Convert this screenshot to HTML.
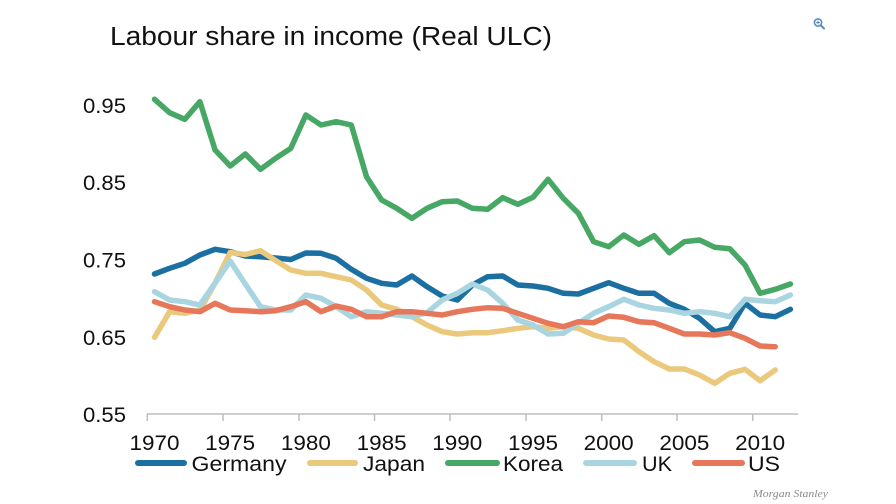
<!DOCTYPE html>
<html>
<head>
<meta charset="utf-8">
<style>
  html,body{margin:0;padding:0;background:#fff;}
  svg{display:block;}
  text{font-family:"Liberation Sans",Arial,sans-serif;fill:#111;}
</style>
</head>
<body>
<svg width="896" height="504" viewBox="0 0 896 504" xmlns="http://www.w3.org/2000/svg">
  <rect width="896" height="504" fill="#fff"/>
  <!-- Title -->
  <text x="110" y="45" font-size="25.5" textLength="442" lengthAdjust="spacingAndGlyphs">Labour share in income (Real ULC)</text>

  <!-- Zoom icon -->
  <g stroke="#5a8cbf" fill="none">
    <circle cx="818" cy="22.5" r="3.6" stroke-width="1.6"/>
    <line x1="820.8" y1="25.3" x2="824" y2="28.5" stroke-width="2" stroke-linecap="round"/>
    <line x1="816.2" y1="22.5" x2="819.8" y2="22.5" stroke-width="1.1"/>
    <line x1="818" y1="20.7" x2="818" y2="24.3" stroke-width="1.1"/>
  </g>

  <!-- Y labels -->
  <g font-size="21" text-anchor="end">
    <text x="126" y="113" textLength="43" lengthAdjust="spacingAndGlyphs">0.95</text>
    <text x="126" y="190" textLength="43" lengthAdjust="spacingAndGlyphs">0.85</text>
    <text x="126" y="267.5" textLength="43" lengthAdjust="spacingAndGlyphs">0.75</text>
    <text x="126" y="345" textLength="43" lengthAdjust="spacingAndGlyphs">0.65</text>
    <text x="126" y="422" textLength="43" lengthAdjust="spacingAndGlyphs">0.55</text>
  </g>

  <!-- X axis -->
  <g stroke="#bdbdbd" stroke-width="1.5">
    <line x1="147" y1="414" x2="798" y2="414"/>
    <line x1="147.3" y1="414" x2="147.3" y2="421"/>
    <line x1="223" y1="414" x2="223" y2="421"/>
    <line x1="299" y1="414" x2="299" y2="421"/>
    <line x1="374.5" y1="414" x2="374.5" y2="421"/>
    <line x1="450" y1="414" x2="450" y2="421"/>
    <line x1="526" y1="414" x2="526" y2="421"/>
    <line x1="601.7" y1="414" x2="601.7" y2="421"/>
    <line x1="677" y1="414" x2="677" y2="421"/>
    <line x1="752.7" y1="414" x2="752.7" y2="421"/>
  </g>
  <g font-size="21" text-anchor="middle">
    <text x="154.5" y="450" textLength="50" lengthAdjust="spacingAndGlyphs">1970</text>
    <text x="230.2" y="450" textLength="50" lengthAdjust="spacingAndGlyphs">1975</text>
    <text x="305.9" y="450" textLength="50" lengthAdjust="spacingAndGlyphs">1980</text>
    <text x="381.6" y="450" textLength="50" lengthAdjust="spacingAndGlyphs">1985</text>
    <text x="457.3" y="450" textLength="50" lengthAdjust="spacingAndGlyphs">1990</text>
    <text x="533.0" y="450" textLength="50" lengthAdjust="spacingAndGlyphs">1995</text>
    <text x="608.7" y="450" textLength="50" lengthAdjust="spacingAndGlyphs">2000</text>
    <text x="684.4" y="450" textLength="50" lengthAdjust="spacingAndGlyphs">2005</text>
    <text x="760.1" y="450" textLength="50" lengthAdjust="spacingAndGlyphs">2010</text>
  </g>

  <!-- Series -->
  <g fill="none" stroke-width="5.5" stroke-linejoin="round" stroke-linecap="round">
    <!-- Germany -->
    <polyline stroke="#1b6fa1" points="154.5,274 169.6,268.3 184.8,263.3 199.9,255 215.1,249.3 230.2,251.7 245.3,256 260.5,256.7 275.6,258 290.8,259.5 305.9,253 321.0,253.3 336.2,258.3 351.3,269.3 366.5,278.3 381.6,283.3 396.7,285 411.9,276 427.0,286.7 442.2,296 457.3,300 472.4,285 487.6,276.7 502.7,276 517.9,285 533.0,286 548.1,288.3 563.3,293.3 578.4,294 593.6,288.3 608.7,282.7 623.8,288.3 639.0,293.3 654.1,293.3 669.3,303.3 684.4,309.3 699.5,318.3 714.7,331.7 729.8,328.3 745.0,303.3 760.1,315 775.2,316.7 790.4,309.3"/>
    <!-- Japan -->
    <polyline stroke="#ebc97c" points="154.5,337.3 169.6,311.7 184.8,313.3 199.9,310 215.1,283 230.2,252.5 245.3,254.5 260.5,250.7 275.6,260.5 290.8,270 305.9,273.3 321.0,273.3 336.2,276.7 351.3,280 366.5,290 381.6,305 396.7,309.3 411.9,316.7 427.0,325 442.2,331.7 457.3,334 472.4,332.7 487.6,332.7 502.7,330.7 517.9,328.3 533.0,326.7 548.1,328.3 563.3,326.7 578.4,328.3 593.6,335 608.7,339 623.8,340 639.0,351.7 654.1,361.7 669.3,369 684.4,369 699.5,375 714.7,383.3 729.8,373.3 745.0,369.3 760.1,380.7 775.2,370"/>
    <!-- Korea -->
    <polyline stroke="#47a765" points="154.5,99.3 169.6,112.7 184.8,119.3 199.9,101.7 215.1,150 230.2,166 245.3,154 260.5,169.3 275.6,158.3 290.8,148.3 305.9,115 321.0,125 336.2,121.7 351.3,125 366.5,176.7 381.6,200 396.7,208.3 411.9,218.3 427.0,208.3 442.2,201.7 457.3,201 472.4,208.3 487.6,209.3 502.7,197.7 517.9,204.3 533.0,197.3 548.1,179.3 563.3,198.3 578.4,213.3 593.6,241.7 608.7,246.7 623.8,235 639.0,244.3 654.1,235.7 669.3,252.7 684.4,241.7 699.5,240 714.7,247.3 729.8,248.7 745.0,265 760.1,293.3 775.2,289.3 790.4,284"/>
    <!-- UK -->
    <polyline stroke="#a9d5e1" points="154.5,291.7 169.6,300 184.8,301.7 199.9,305 215.1,283 230.2,261 245.3,284 260.5,306.7 275.6,310 290.8,310 305.9,295 321.0,298.3 336.2,306.7 351.3,316.7 366.5,311.7 381.6,313.3 396.7,315 411.9,316.7 427.0,312.7 442.2,300 457.3,293.3 472.4,284 487.6,290 502.7,303.3 517.9,320 533.0,325 548.1,334 563.3,333.3 578.4,323.3 593.6,313.3 608.7,306.7 623.8,299.3 639.0,305 654.1,308.3 669.3,310 684.4,313.3 699.5,311.7 714.7,313.3 729.8,316.7 745.0,299.3 760.1,300.7 775.2,301.7 790.4,295"/>
    <!-- US -->
    <polyline stroke="#e6775a" points="154.5,301.7 169.6,306.7 184.8,310 199.9,311.7 215.1,303.3 230.2,310 245.3,310.7 260.5,311.7 275.6,310.7 290.8,306.7 305.9,301.7 321.0,311.7 336.2,306 351.3,309.3 366.5,316.7 381.6,316.7 396.7,311.7 411.9,311.7 427.0,313.3 442.2,315 457.3,311.7 472.4,309.3 487.6,307.7 502.7,308.3 517.9,313.3 533.0,318.3 548.1,323.3 563.3,326.7 578.4,321.7 593.6,322.7 608.7,316 623.8,317.3 639.0,321.7 654.1,322.7 669.3,328.3 684.4,334 699.5,334 714.7,335 729.8,332.7 745.0,338.3 760.1,346 775.2,346.7"/>
  </g>

  <!-- Legend -->
  <g stroke-width="6" stroke-linecap="round">
    <line x1="138" y1="463" x2="184" y2="463" stroke="#1b6fa1"/>
    <line x1="310" y1="463" x2="355" y2="463" stroke="#ebc97c"/>
    <line x1="448" y1="463" x2="497" y2="463" stroke="#47a765"/>
    <line x1="586" y1="463" x2="634" y2="463" stroke="#a9d5e1"/>
    <line x1="695" y1="463" x2="742" y2="463" stroke="#e6775a"/>
  </g>
  <g font-size="21">
    <text x="191.5" y="471" textLength="95" lengthAdjust="spacingAndGlyphs">Germany</text>
    <text x="363" y="471" textLength="62" lengthAdjust="spacingAndGlyphs">Japan</text>
    <text x="503" y="471" textLength="60" lengthAdjust="spacingAndGlyphs">Korea</text>
    <text x="642" y="471" textLength="30" lengthAdjust="spacingAndGlyphs">UK</text>
    <text x="748" y="471" textLength="32" lengthAdjust="spacingAndGlyphs">US</text>
  </g>

  <!-- Source -->
  <text x="753" y="497" font-size="10.5" font-style="italic" textLength="75" lengthAdjust="spacingAndGlyphs" style="font-family:'Liberation Serif',serif;fill:#8a8a8a;">Morgan Stanley</text>
</svg>
</body>
</html>
